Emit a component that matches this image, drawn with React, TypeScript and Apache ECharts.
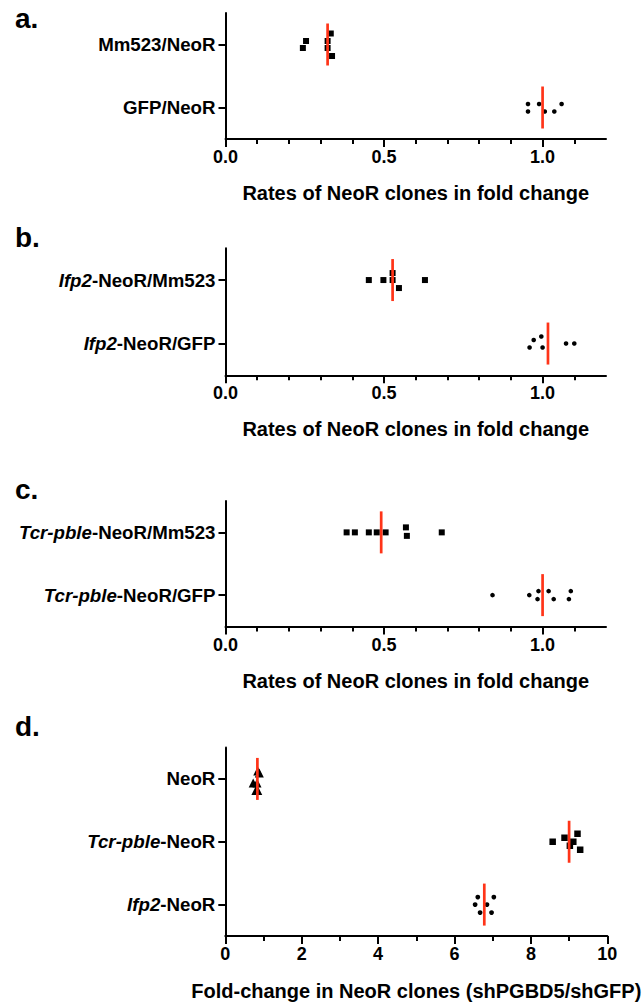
import React, { useEffect, useRef } from "react";
import * as echarts from "echarts";

const FONT = '"Liberation Sans", Arial, Helvetica, sans-serif';
const RED = "#ff3418";

// Panel a
const catsA = ["Mm523/NeoR", "GFP/NeoR"];
const aMm523 = [0.332, 0.254, 0.244, 0.322, 0.322, 0.336];
const aMm523Jit = [-11, -3.5, 3.5, -3.5, 3.5, 11.5];
const aGFP = [0.954, 0.954, 0.989, 1.007, 1.037, 1.06];
const aGFPJit = [-3.5, 4, -3.5, 4, 4, -3.5];
const aLines = [0.322, 1.0];

// Panel b
const catsB = ["Ifp2-NeoR/Mm523", "Ifp2-NeoR/GFP"];
const bMm523 = [0.452, 0.498, 0.527, 0.527, 0.547, 0.629];
const bMm523Jit = [0, 0, -7, 0, 8, 0];
const bGFP = [0.959, 0.972, 0.996, 1.0, 1.074, 1.1];
const bGFPJit = [4, -3.5, -7, 4, 0, 0];
const bLines = [0.527, 1.017];

// Panel c
const catsC = ["Tcr-pble-NeoR/Mm523", "Tcr-pble-NeoR/GFP"];
const cMm523 = [0.382, 0.408, 0.452, 0.477, 0.505, 0.569, 0.572, 0.682];
const cMm523Jit = [0, 0, 0, 0, 0, -5, 3.5, 0];
const cGFP = [0.842, 0.958, 0.987, 0.984, 1.019, 1.035, 1.083, 1.089];
const cGFPJit = [0, 0, -4, 4, -4, 4, 4, -4];
const cLines = [0.491, 1.0];

// Panel d
const catsD = ["NeoR", "Tcr-pble-NeoR", "Ifp2-NeoR"];
const dNeoR = [0.89, 0.85, 0.73, 0.83, 0.85, 0.8];
const dNeoRJit = [-6, -8, 4, 4, 11.5, 11.5];
const dTcr = [8.57, 8.88, 9.22, 9.11, 9.02, 9.29];
const dTcrJit = [0, -4, -8, 0, 4, 8];
const dIfp2 = [6.61, 7.03, 6.54, 6.85, 6.67, 6.97];
const dIfp2Jit = [-7.5, -7.5, 0, 0, 8, 8];
const dLines = [0.84, 9.0, 6.78];

const ticksABC = [0, 0.5, 1.0];
const ticksD = [0, 2, 4, 6, 8, 10];

const titleABC = "Rates of NeoR clones in fold change";
const titleD = "Fold-change in NeoR clones (shPGBD5/shGFP)";
const panelLetters = ["a.", "b.", "c.", "d."];

const ITALIC_PARTS = ["Tcr-pble", "Ifp2"];
function catFormatter(v: string) {
  for (const p of ITALIC_PARTS) {
    if (v.startsWith(p)) return `{i|${p}}{n|${v.slice(p.length)}}`;
  }
  return `{n|${v}}`;
}

const labelStyle = { fontFamily: FONT, fontWeight: "bold" as const, color: "#000", fontSize: 18.7 };

function yAxis(gridIndex: number, cats: string[]) {
  return {
    type: "category",
    gridIndex,
    data: cats,
    inverse: true,
    axisLine: { show: true, lineStyle: { color: "#000", width: 2 } },
    axisTick: { show: true, alignWithLabel: true, length: 7, lineStyle: { color: "#000", width: 2 } },
    axisLabel: {
      margin: 10,
      formatter: catFormatter,
      rich: {
        i: { ...labelStyle, fontStyle: "italic" },
        n: { ...labelStyle },
      },
    },
    splitLine: { show: false },
  };
}

function xAxis(gridIndex: number, isD: boolean) {
  return {
    type: "value",
    gridIndex,
    min: 0,
    max: isD ? 10 : 1.2,
    interval: isD ? 2 : 0.5,
    axisLine: { show: true, onZero: false, lineStyle: { color: "#000", width: 2 } },
    axisTick: {
      show: true,
      length: 8,
      lineStyle: { color: "#000", width: 2 },
      customValues: isD ? ticksD : ticksABC,
    },
    minorTick: { show: true, splitNumber: isD ? 2 : 5, length: 5, lineStyle: { color: "#000", width: 2 } },
    axisLabel: {
      customValues: isD ? ticksD : ticksABC,
      formatter: (v: number) => (isD ? String(v) : v.toFixed(1)),
      margin: 9,
      fontSize: 18,
      fontWeight: "bold",
      color: "#000",
      fontFamily: FONT,
    },
    splitLine: { show: false },
    minorSplitLine: { show: false },
    name: isD ? titleD : titleABC,
    nameLocation: "middle",
    nameGap: isD ? 45 : 44,
    nameTextStyle: { fontSize: 20, fontWeight: "bold", color: "#000", fontFamily: FONT },
  };
}

function pts(vals: number[], jit: number[], cat: string, idx: number, symbol: string, size: number) {
  return {
    type: "scatter",
    xAxisIndex: idx,
    yAxisIndex: idx,
    symbol,
    symbolSize: size,
    itemStyle: { color: "#000", opacity: 1 },
    z: 2,
    data: vals.map((v, i) => ({ value: [v, cat], symbolOffset: [0, jit[i]] })),
  };
}

function lines(vals: number[], cats: string[], idx: number) {
  return {
    type: "scatter",
    xAxisIndex: idx,
    yAxisIndex: idx,
    symbol: "rect",
    symbolSize: [2.7, 42],
    itemStyle: { color: RED, opacity: 1 },
    z: 3,
    data: vals.map((v, i) => [v, cats[i]]),
  };
}

export default function App() {
  const ref = useRef<HTMLDivElement>(null);
  useEffect(() => {
    if (!ref.current) return;
    const chart = echarts.init(ref.current, null, { renderer: "svg" });
    const letterY = [18, 237, 489, 726];
    chart.setOption({
      animation: false,
      backgroundColor: "#fff",
      grid: [
        { left: 225.5, width: 380.5, top: 13, height: 126 },
        { left: 225.5, width: 380.5, top: 248.3, height: 127 },
        { left: 225.5, width: 380.5, top: 501, height: 125.5 },
        { left: 225.3, width: 382, top: 747.5, height: 190 },
      ],
      xAxis: [xAxis(0, false), xAxis(1, false), xAxis(2, false), xAxis(3, true)],
      yAxis: [yAxis(0, catsA), yAxis(1, catsB), yAxis(2, catsC), yAxis(3, catsD)],
      series: [
        pts(aMm523, aMm523Jit, catsA[0], 0, "rect", 6),
        pts(aGFP, aGFPJit, catsA[1], 0, "circle", 4.6),
        lines(aLines, catsA, 0),
        pts(bMm523, bMm523Jit, catsB[0], 1, "rect", 6),
        pts(bGFP, bGFPJit, catsB[1], 1, "circle", 4.6),
        lines(bLines, catsB, 1),
        pts(cMm523, cMm523Jit, catsC[0], 2, "rect", 6),
        pts(cGFP, cGFPJit, catsC[1], 2, "circle", 4.6),
        lines(cLines, catsC, 2),
        pts(dNeoR, dNeoRJit, catsD[0], 3, "triangle", 9),
        pts(dTcr, dTcrJit, catsD[1], 3, "rect", 6.5),
        pts(dIfp2, dIfp2Jit, catsD[2], 3, "circle", 4.8),
        lines(dLines, catsD, 3),
      ],
      graphic: panelLetters.map((t, i) => ({
        type: "text",
        x: 15,
        y: letterY[i],
        style: {
          text: t,
          fill: "#000",
          font: `bold 28px ${FONT}`,
          verticalAlign: "middle",
        },
      })),
    });
    return () => chart.dispose();
  }, []);
  return (
    <div
      ref={ref}
      style={{ position: "absolute", left: 0, top: 0, width: 644, height: 1002, background: "#fff" }}
    />
  );
}
